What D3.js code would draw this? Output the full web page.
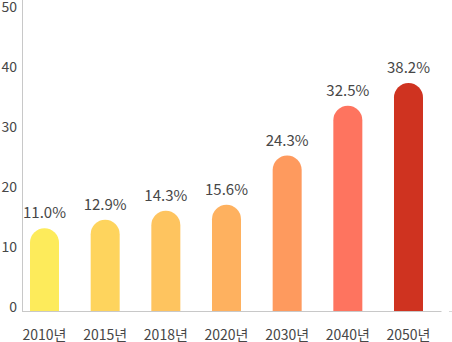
<!DOCTYPE html>
<html><head><meta charset="utf-8">
<script src="https://cdn.jsdelivr.net/npm/d3@7"></script>
<style>
html,body{margin:0;padding:0;background:#fff;}
svg{display:block;}
text{font-family:"Noto Sans CJK KR","Noto Sans",sans-serif;fill:#474747;}
</style></head>
<body>
<svg id="chart" width="452" height="342"></svg>
<script>
const categories = ["2010년","2015년","2018년","2020년","2030년","2040년","2050년"];
const barValues = [13.8, 15.2, 16.7, 17.7, 25.9, 34.2, 38.0];
const valueLabels = ["11.0%","12.9%","14.3%","15.6%","24.3%","32.5%","38.2%"];
const barColors = ["#fdeb5b","#fed45d","#fec45f","#feb15f","#fe9a5e","#fe745f","#cf3320"];
const yTicks = [0,10,20,30,40,50];

const svg = d3.select("#chart");
const x = d3.scaleBand().domain(categories).range([14.17, 438.83]).paddingInner(0.522).paddingOuter(0.261);
const y = d3.scaleLinear().domain([0,50]).range([311, 11]);

// axes lines
svg.append("line").attr("x1",22.5).attr("x2",22.5).attr("y1",0).attr("y2",311).attr("stroke","#c8c8c8").attr("stroke-width",1);
svg.append("line").attr("x1",22).attr("x2",441.5).attr("y1",311.5).attr("y2",311.5).attr("stroke","#c8c8c8").attr("stroke-width",1);
svg.append("line").attr("x1",449).attr("x2",452).attr("y1",311.5).attr("y2",311.5).attr("stroke","#d8d8d8").attr("stroke-width",1);

// y tick labels
svg.append("g").selectAll("text").data(yTicks).join("text")
  .attr("x",17).attr("y",d=>y(d)+0.5).attr("text-anchor","end")
  .attr("font-size",14).text(d=>d);

// bars
const bw = x.bandwidth(), r = bw/2;
svg.append("g").selectAll("path").data(categories).join("path")
  .attr("fill",(d,i)=>barColors[i])
  .attr("d",(d,i)=>{
    const x0 = x(d), yt = y(barValues[i]), yb = y(0);
    return `M${x0},${yb}L${x0},${yt+r}A${r},${r} 0 0 1 ${x0+bw},${yt+r}L${x0+bw},${yb}Z`;
  });

// value labels
svg.append("g").selectAll("text").data(categories).join("text")
  .attr("x",d=>x(d)+bw/2).attr("y",(d,i)=>y(barValues[i])-10)
  .attr("text-anchor","middle").attr("font-size",15)
  .text((d,i)=>valueLabels[i]);

// x labels
svg.append("g").selectAll("text").data(categories).join("text")
  .attr("x",d=>x(d)+bw/2).attr("y",339.5)
  .attr("text-anchor","middle").attr("font-size",14)
  .text(d=>d);
</script>
</body></html>
